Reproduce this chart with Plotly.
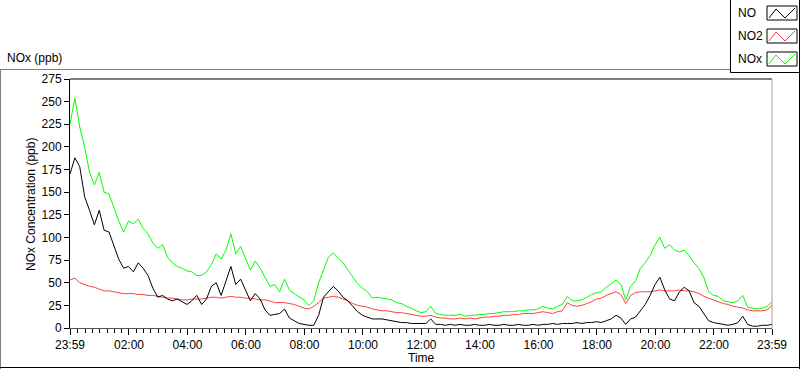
import plotly.graph_objects as go
import pandas as pd

# ---- data (10-minute samples, 23:59 -> 23:59 next day) ----
start_time = "2024-01-01 23:59"
n_points = 145

nox = [225, 254, 222, 200, 172, 158, 172, 150, 148, 132,
       118, 106, 118, 115, 120, 110, 104, 94, 88, 92,
       78, 72, 68, 66, 63, 62, 58, 58, 62, 70,
       82, 76, 86, 104, 82, 90, 76, 64, 74, 66,
       56, 46, 48, 40, 54, 42, 38, 34, 31, 25,
       30, 50, 64, 78, 83, 78, 72, 64, 57, 49,
       44, 40, 33, 34, 33, 32, 31, 28, 27, 24,
       22, 19, 17, 18, 24, 16, 15, 14, 14, 14,
       15, 13, 14, 14, 15, 15, 16, 16, 17, 18,
       18, 18, 19, 19, 20, 20, 21, 24, 22, 21,
       24, 26, 35, 30, 30, 31, 34, 37, 39, 40,
       45, 49, 53, 48, 31, 46, 52, 66, 72, 80,
       92, 100, 88, 92, 86, 84, 86, 80, 72, 66,
       56, 40, 36, 35, 30, 29, 28, 30, 36, 23,
       22, 21, 22, 24, 29]

no = [170, 188, 178, 145, 130, 114, 130, 108, 106, 90,
      76, 66, 68, 62, 72, 66, 58, 44, 34, 36,
      32, 30, 32, 29, 26, 30, 36, 26, 32, 46,
      50, 36, 52, 68, 48, 54, 42, 30, 38, 32,
      20, 14, 15, 16, 21, 11, 8, 5, 4, 3,
      3, 14, 34, 40, 46, 41, 34, 30, 24, 18,
      14, 12, 10, 10, 10, 9, 8, 7, 6, 6,
      5, 5, 5, 5, 10, 4, 4, 3, 4, 3,
      4, 3, 3, 4, 3, 3, 4, 3, 3, 4,
      3, 3, 4, 3, 3, 4, 3, 4, 4, 5,
      4, 5, 5, 5, 6, 5, 6, 6, 7, 6,
      8, 10, 14, 11, 4, 10, 12, 19, 26, 36,
      48, 56, 42, 32, 30, 40, 45, 41, 28, 24,
      16, 8, 6, 5, 4, 3, 4, 6, 13, 4,
      2, 2, 3, 3, 4]

no2 = [53, 55, 50, 48, 46, 45, 43, 41, 41, 40,
       39, 38, 38, 38, 37, 37, 36, 36, 35, 34,
       33, 33, 32, 31, 31, 32, 32, 32, 33, 34,
       34, 33, 34, 35, 34, 34, 33, 33, 32, 31,
       31, 30, 28, 28, 28, 27, 26, 24, 22, 21,
       24, 28, 33, 34, 35, 34, 32, 30, 27, 25,
       24, 23, 21, 20, 19, 19, 18, 17, 17, 16,
       15, 14, 13, 13, 14, 12, 11, 11, 10, 10,
       11, 10, 11, 10, 11, 12, 12, 13, 13, 14,
       14, 15, 15, 16, 16, 16, 17, 18, 17, 16,
       18, 19, 28, 25, 24, 25, 27, 29, 32, 33,
       36, 38, 40, 37, 27, 36, 39, 40, 40, 40,
       41, 42, 41, 41, 41, 42, 41, 41, 40, 38,
       35, 33, 31, 29, 27, 26, 24, 23, 22, 20,
       19, 19, 19, 20, 25]

tick_labels = ["23:59", "02:00", "04:00", "06:00", "08:00", "10:00", "12:00",
               "14:00", "16:00", "18:00", "20:00", "22:00", "23:59"]
y_ticks = list(range(0, 276, 25))
series_names = ["NO", "NO2", "NOx"]

# ---- build ----
times = pd.date_range(start_time, periods=n_points, freq="10min")
t0 = times[0]
t1 = times[-1]
day = t0.normalize() + pd.Timedelta(days=1)
tickvals = [t0] + [day + pd.Timedelta(hours=h) for h in range(2, 23, 2)] + [t1]
minor_vals = [day + pd.Timedelta(minutes=m) for m in range(15, 24 * 60, 15)
              if m % 120 != 0]

FONT = "Liberation Sans"
W, H = 800, 369
L, R, T, B = 70, 28, 79, 41
PW, PH = W - L - R, H - T - B


def px(x):
    return (x - L) / PW


def py(y):
    return (H - B - y) / PH


fig = go.Figure()
fig.add_trace(go.Scatter(x=times, y=nox, mode="lines", name=series_names[2],
                         line=dict(color="#00ff00", width=1)))
fig.add_trace(go.Scatter(x=times, y=no2, mode="lines", name=series_names[1],
                         line=dict(color="#ff4040", width=1)))
fig.add_trace(go.Scatter(x=times, y=no, mode="lines", name=series_names[0],
                         line=dict(color="#000000", width=1)))

shapes = []


def line(x0, y0, x1, y1, color="black", w=1):
    shapes.append(dict(type="line", xref="paper", yref="paper",
                       x0=px(x0), y0=py(y0), x1=px(x1), y1=py(y1),
                       line=dict(color=color, width=w)))


# plot frame
line(70, 79, 772, 79, "black")
line(772, 79, 772, 328, "#a0a0a0")
# outer panel
line(0, 69.5, 730, 69.5, "#808080")
line(0.5, 69.5, 0.5, 369, "#808080")
line(0, 367.5, 800, 367.5, "black")
line(799.5, 0, 799.5, 369, "black")
# legend box
line(730.5, 0, 730.5, 72.5, "black")
line(730.5, 72.5, 800, 72.5, "black")

legend_colors = ["#000000", "#ff4040", "#00ff00"]
legend_rows = [13, 36, 59]
for name, col, yc in zip(series_names, legend_colors, legend_rows):
    y0, y1 = yc - 7, yc + 7
    shapes.append(dict(type="rect", xref="paper", yref="paper",
                       x0=px(767), x1=px(797), y0=py(y1), y1=py(y0),
                       line=dict(color="black", width=1), fillcolor="white"))
    pts = [(769, yc + 5), (776, yc - 4), (785, yc + 5), (795, yc - 5)]
    path = "M " + " L ".join(f"{px(a):.5f},{py(b):.5f}" for a, b in pts)
    shapes.append(dict(type="path", xref="paper", yref="paper", path=path,
                       line=dict(color=col, width=1)))

annotations = [
    dict(text="NOx (ppb)", x=px(5), y=py(58), xanchor="left", yanchor="middle"),
    dict(text="NOx Concentration (ppb)", x=px(31), y=py(205), textangle=-90,
         xanchor="center", yanchor="middle"),
    dict(text="Time", x=px(421), y=py(358), xanchor="center", yanchor="middle"),
]
for name, yc in zip(series_names, legend_rows):
    annotations.append(dict(text=name, x=px(736), y=py(yc), xanchor="left",
                            yanchor="middle"))
for a in annotations:
    a.update(xref="paper", yref="paper", showarrow=False,
             font=dict(family=FONT, size=12, color="black"))

fig.update_layout(
    width=W, height=H,
    margin=dict(l=L, r=R, t=T, b=B, pad=0),
    paper_bgcolor="white", plot_bgcolor="white",
    showlegend=False,
    font=dict(family=FONT, size=12, color="black"),
    shapes=shapes,
    annotations=annotations,
    xaxis=dict(type="date", range=[t0, t1], tickmode="array",
               tickvals=tickvals, ticktext=tick_labels,
               ticks="outside", ticklen=6, tickwidth=1, tickcolor="black",
               showgrid=False, zeroline=False, showline=True,
               linecolor="#555555", linewidth=1,
               tickfont=dict(family=FONT, size=12, color="black"),
               minor=dict(tickmode="array", tickvals=minor_vals,
                          ticks="outside", ticklen=4, tickcolor="black",
                          showgrid=False)),
    yaxis=dict(range=[0, 275], tickmode="array", tickvals=y_ticks,
               ticks="outside", ticklen=5, tickcolor="black",
               showgrid=False, zeroline=False, showline=True,
               linecolor="black", linewidth=1,
               tickfont=dict(family=FONT, size=12, color="black")),
)

fig.write_html("out.html",
               config={"displayModeBar": False},
               post_script="document.body.style.margin='0';"
                           "document.body.style.overflow='hidden';")
